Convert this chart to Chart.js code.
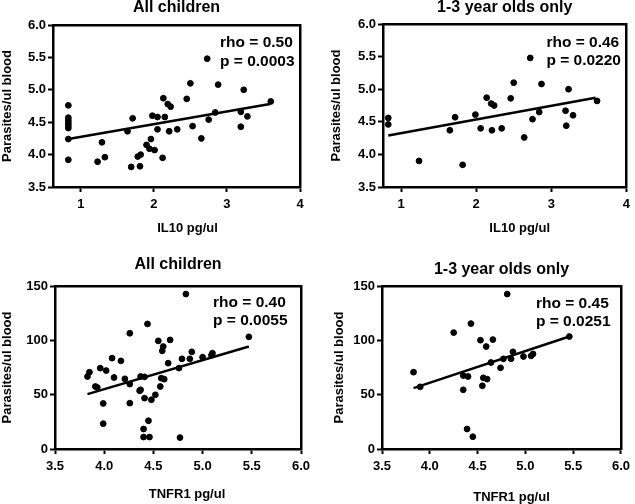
<!DOCTYPE html>
<html>
<head>
<meta charset="utf-8">
<script src="https://cdn.jsdelivr.net/npm/chart.js@4.4.0/dist/chart.umd.min.js"></script>
<style>
    body { margin: 0; background: #fff; }
    #wrap { position: relative; width: 635px; height: 504px; }
    .panel { position: absolute; }
</style>
</head>
<body>
<div id="wrap">
    <div class="panel" style="left:0px;top:0px;width:317px;height:252px"><canvas id="chartIl10All"></canvas></div>
    <div class="panel" style="left:317px;top:0px;width:318px;height:252px"><canvas id="chartIl10Young"></canvas></div>
    <div class="panel" style="left:0px;top:252px;width:317px;height:252px"><canvas id="chartTnfAll"></canvas></div>
    <div class="panel" style="left:317px;top:252px;width:318px;height:252px"><canvas id="chartTnfYoung"></canvas></div>
</div>
<script>
// IL10 vs parasites, all children
var il10All = [0.83, 0.83, 0.83, 0.83, 0.83, 0.83, 0.83, 0.83, 1.23, 1.29, 1.33, 1.64, 1.71, 1.69, 1.78, 1.82, 1.81, 1.90, 1.94, 1.96, 1.98, 2.01, 2.05, 2.05, 2.12, 2.13, 2.15, 2.19, 2.23, 2.21, 2.32, 2.45, 2.50, 2.53, 2.65, 2.73, 2.75, 2.84, 2.88, 3.19, 3.19, 3.23, 3.28, 3.60];
var parasitesIl10All = [4.76, 4.57, 4.53, 4.49, 4.45, 4.41, 4.24, 3.92, 3.89, 4.19, 3.96, 4.36, 4.56, 3.81, 3.97, 4.00, 3.82, 4.15, 4.09, 4.24, 4.60, 4.07, 4.58, 4.39, 3.95, 4.87, 4.58, 4.78, 4.74, 4.36, 4.39, 4.86, 5.10, 4.44, 4.25, 5.48, 4.54, 4.65, 5.08, 4.66, 4.43, 5.00, 4.59, 4.82];
var fitIl10AllX = [0.83, 3.59];
var fitIl10AllY = [4.24, 4.78];

// IL10 vs parasites, 1-3 year olds
var il10Young = [0.83, 0.83, 1.24, 1.65, 1.72, 1.82, 1.99, 2.06, 2.14, 2.20, 2.24, 2.21, 2.34, 2.46, 2.50, 2.64, 2.72, 2.75, 2.84, 2.87, 3.19, 3.20, 3.23, 3.29, 3.61];
var parasitesIl10Young = [4.56, 4.46, 3.90, 4.37, 4.57, 3.84, 4.61, 4.40, 4.87, 4.78, 4.75, 4.37, 4.40, 4.86, 5.10, 4.26, 5.48, 4.54, 4.65, 5.08, 4.67, 4.44, 5.00, 4.60, 4.82];
var fitIl10YoungX = [0.83, 3.59];
var fitIl10YoungY = [4.29, 4.87];

// TNFR1 vs parasites, all children
var tnfAll = [3.83, 3.85, 3.91, 3.93, 3.96, 4.02, 3.99, 3.99, 4.08, 4.10, 4.17, 4.21, 4.26, 4.26, 4.26, 4.37, 4.41, 4.36, 4.37, 4.41, 4.44, 4.45, 4.40, 4.40, 4.46, 4.48, 4.52, 4.55, 4.57, 4.58, 4.59, 4.60, 4.61, 4.65, 4.67, 4.77, 4.76, 4.79, 4.83, 4.87, 4.89, 5.00, 5.09, 5.10, 5.47];
var parasitesTnfAll = [66.7, 70.7, 57.5, 56.6, 74.4, 72.2, 41.9, 23.3, 83.6, 65.8, 81.1, 64.6, 59.7, 106.5, 42.2, 66.7, 66.4, 53.6, 54.5, 46.8, 115.1, 26.0, 18.4, 11.0, 11.0, 45.3, 49.9, 99.5, 57.5, 65.2, 90.3, 94.3, 64.3, 79.0, 100.4, 10.5, 74.4, 83.0, 142.6, 83.0, 89.4, 84.5, 86.3, 88.2, 103.2];
var fitTnfAllX = [3.83, 5.47];
var fitTnfAllY = [50.5, 94.3];

// TNFR1 vs parasites, 1-3 year olds
var tnfYoung = [3.83, 3.90, 4.25, 4.35, 4.40, 4.35, 4.43, 4.39, 4.45, 4.53, 4.56, 4.60, 4.55, 4.59, 4.66, 4.64, 4.74, 4.77, 4.81, 4.85, 4.87, 4.98, 5.06, 5.08, 5.46];
var parasitesTnfYoung = [70.7, 57.2, 107.1, 67.6, 66.7, 54.5, 115.4, 18.4, 11.3, 100.1, 65.5, 64.3, 58.2, 94.3, 100.7, 79.6, 74.7, 83.0, 142.6, 83.0, 89.4, 85.1, 85.7, 87.5, 103.5];
var fitTnfYoungX = [3.83, 5.46];
var fitTnfYoungY = [56.0, 103.5];

// tick values and labels
var il10Ticks = [1, 2, 3, 4];
var il10TickLabels = ["1", "2", "3", "4"];
var logParasiteTicks = [3.5, 4.0, 4.5, 5.0, 5.5, 6.0];
var logParasiteTickLabels = ["3.5", "4.0", "4.5", "5.0", "5.5", "6.0"];
var tnfTicks = [3.5, 4.0, 4.5, 5.0, 5.5, 6.0];
var tnfTickLabels = ["3.5", "4.0", "4.5", "5.0", "5.5", "6.0"];
var parasiteTicks = [0, 50, 100, 150];
var parasiteTickLabels = ["0", "50", "100", "150"];

var FONT = '"Liberation Sans", Arial, sans-serif';

var toPoints = (xs, ys) => {
    let pts = [];
    for (let i = 0; i < xs.length; i++) {
        pts.push({ x: xs[i], y: ys[i] });
    }
    return pts;
}

// the x title and the rho / p lines
var textPlugin = {
    id: 'panelText',
    afterDraw: (chart, args, opts) => {
        const a = chart.chartArea;
        const ctx = chart.ctx;
        ctx.save();
        ctx.fillStyle = '#000';
        ctx.textBaseline = 'middle';
        ctx.textAlign = 'left';
        ctx.font = 'bold 15.5px ' + FONT;
        for (let i = 0; i < opts.lines.length; i++) {
            ctx.fillText(opts.lines[i], a.right - opts.right, a.top + opts.top + i * opts.gap);
        }
        ctx.textAlign = 'center';
        ctx.font = 'bold 13px ' + FONT;
        ctx.fillText(opts.xTitle, (a.left + a.right) / 2 + opts.xTitleShift, chart.height - opts.xTitleBottom);
        ctx.restore();
    }
}

var axisOpts = (o) => {
    return {
        type: 'linear',
        position: o.position,
        min: o.min,
        max: o.max,
        afterBuildTicks: (s) => { s.ticks = o.ticks.map(v => ({ value: v })); },
        afterFit: o.fit,
        grid: { display: true, drawOnChartArea: false, drawTicks: true, tickLength: 5, color: '#000', lineWidth: 1, tickWidth: 2 },
        border: { display: true, color: '#000', width: 2.5 },
        ticks: {
            color: '#000',
            padding: o.tickPad,
            font: { family: FONT, size: 13, weight: 'bold' },
            callback: (v, i) => o.labels[i]
        },
        title: o.title
    };
}

// top and right edges of the box: bare axes with only their line
var edgeOpts = (position, min, max, fit) => {
    return {
        type: 'linear',
        position: position,
        min: min,
        max: max,
        afterFit: fit,
        grid: { display: false },
        border: { display: true, color: '#000', width: 2.5 },
        ticks: { display: false }
    };
}

var generateConfig = (p) => {
    return {
        type: 'scatter',
        data: {
            datasets: [{
                data: toPoints(p.xs, p.ys),
                backgroundColor: '#000',
                borderColor: '#000',
                pointRadius: 2.9,
                pointHoverRadius: 2.9
            },
            {
                data: toPoints(p.fitX, p.fitY),
                showLine: true,
                borderColor: '#000',
                borderWidth: 2.5,
                pointRadius: 0
            }]
        },
        options: {
            responsive: true,
            maintainAspectRatio: false,
            animation: false,
            layout: { padding: { left: 0, right: p.padRight, top: 0, bottom: 0 } },
            plugins: {
                legend: { display: false },
                tooltip: { enabled: false },
                title: {
                    display: true,
                    text: p.title,
                    color: '#000',
                    fullSize: false,
                    font: { family: FONT, size: 16, weight: 'bold', lineHeight: 1 },
                    padding: { top: p.titleTop, bottom: p.titleBottom }
                },
                panelText: p.extras
            },
            scales: {
                x: axisOpts({
                    position: 'bottom',
                    min: p.xMin, max: p.xMax, ticks: p.xTicks, labels: p.xLabels,
                    fit: (s) => { s.height = p.xHeight; },
                    tickPad: 5,
                    title: { display: false }
                }),
                y: axisOpts({
                    position: 'left',
                    min: p.yMin, max: p.yMax, ticks: p.yTicks, labels: p.yLabels,
                    fit: (s) => { s.width = p.yWidth; },
                    tickPad: 2,
                    title: {
                        display: true,
                        text: 'Parasites/ul blood',
                        color: '#000',
                        font: { family: FONT, size: 13, weight: 'bold', lineHeight: 1.2 },
                        padding: { top: p.yTitleLeft, bottom: 0 }
                    }
                }),
                xTop: edgeOpts('top', p.xMin, p.xMax, (s) => { s.height = 0; }),
                yRight: edgeOpts('right', p.yMin, p.yMax, (s) => { s.width = 0; })
            }
        },
        plugins: [textPlugin]
    };
}

window.onload = () => {
    new Chart(document.getElementById('chartIl10All').getContext('2d'), generateConfig({
        xs: il10All, ys: parasitesIl10All, fitX: fitIl10AllX, fitY: fitIl10AllY,
        title: 'All children',
        xMin: 0.62, xMax: 4, xTicks: il10Ticks, xLabels: il10TickLabels,
        yMin: 3.5, yMax: 6, yTicks: logParasiteTicks, yLabels: logParasiteTickLabels,
        padRight: 17, yWidth: 53, xHeight: 65, titleTop: 0, titleBottom: 9, yTitleLeft: 0,
        extras: { lines: ['rho = 0.50', 'p = 0.0003'], right: 80, top: 18, gap: 19,
                  xTitle: 'IL10 pg/ul', xTitleShift: 11, xTitleBottom: 24 }
    }));

    new Chart(document.getElementById('chartIl10Young').getContext('2d'), generateConfig({
        xs: il10Young, ys: parasitesIl10Young, fitX: fitIl10YoungX, fitY: fitIl10YoungY,
        title: '1-3 year olds only',
        xMin: 0.76, xMax: 4, xTicks: il10Ticks, xLabels: il10TickLabels,
        yMin: 3.5, yMax: 6, yTicks: logParasiteTicks, yLabels: logParasiteTickLabels,
        padRight: 8, yWidth: 66, xHeight: 65, titleTop: 0, titleBottom: 8, yTitleLeft: 12,
        extras: { lines: ['rho = 0.46', 'p = 0.0220'], right: 80, top: 19, gap: 18,
                  xTitle: 'IL10 pg/ul', xTitleShift: 15, xTitleBottom: 24 }
    }));

    new Chart(document.getElementById('chartTnfAll').getContext('2d'), generateConfig({
        xs: tnfAll, ys: parasitesTnfAll, fitX: fitTnfAllX, fitY: fitTnfAllY,
        title: 'All children',
        xMin: 3.5, xMax: 6, xTicks: tnfTicks, xLabels: tnfTickLabels,
        yMin: 0, yMax: 150, yTicks: parasiteTicks, yLabels: parasiteTickLabels,
        padRight: 16, yWidth: 55, xHeight: 55, titleTop: 5, titleBottom: 13, yTitleLeft: 0,
        extras: { lines: ['rho = 0.40', 'p = 0.0055'], right: 88, top: 17, gap: 18,
                  xTitle: 'TNFR1 pg/ul', xTitleShift: 9, xTitleBottom: 10 }
    }));

    new Chart(document.getElementById('chartTnfYoung').getContext('2d'), generateConfig({
        xs: tnfYoung, ys: parasitesTnfYoung, fitX: fitTnfYoungX, fitY: fitTnfYoungY,
        title: '1-3 year olds only',
        xMin: 3.5, xMax: 6, xTicks: tnfTicks, xLabels: tnfTickLabels,
        yMin: 0, yMax: 150, yTicks: parasiteTicks, yLabels: parasiteTickLabels,
        padRight: 8, yWidth: 65, xHeight: 55, titleTop: 10, titleBottom: 8, yTitleLeft: 15,
        extras: { lines: ['rho = 0.45', 'p = 0.0251'], right: 85, top: 18, gap: 17.5,
                  xTitle: 'TNFR1 pg/ul', xTitleShift: 10, xTitleBottom: 7 }
    }));
}
</script>
</body>
</html>
